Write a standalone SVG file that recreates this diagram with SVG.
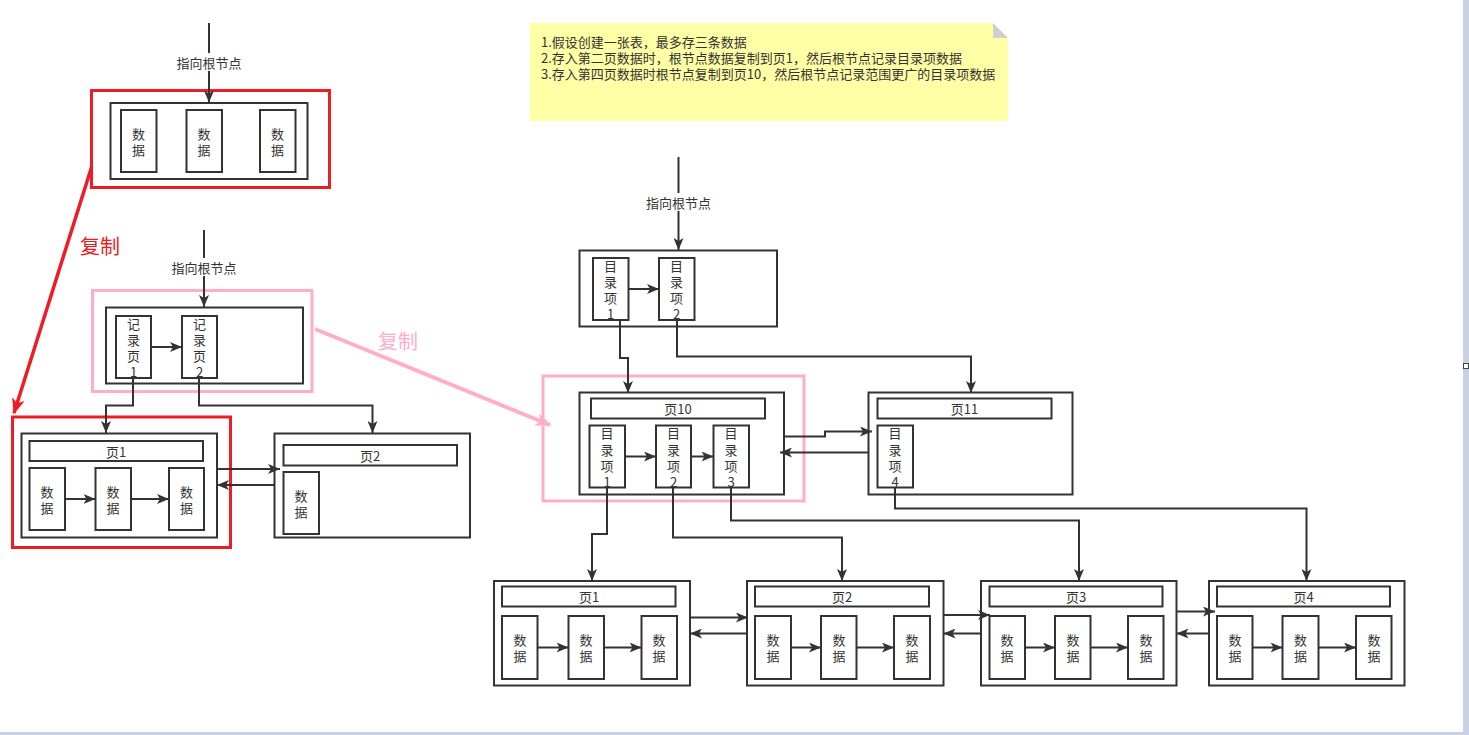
<svg xmlns="http://www.w3.org/2000/svg" width="1469" height="735" viewBox="0 0 1469 735">
<style>
.box{fill:#fff;stroke:#333;stroke-width:2}
.cell{fill:#fff;stroke:#333;stroke-width:2}
.ln{fill:none;stroke:#333;stroke-width:2}
.t{font-family:"Noto Sans CJK SC","Microsoft YaHei",sans-serif;font-size:13px;fill:#333;text-anchor:middle;dominant-baseline:central}
.nt{font-family:"Noto Sans CJK SC",sans-serif;font-size:13px;fill:#333;dominant-baseline:central}
.lbl{fill:#fff}
.big{font-family:"Noto Sans CJK SC",sans-serif;font-size:20px;text-anchor:middle;dominant-baseline:central}
</style>
<defs>
<marker id="ah" viewBox="0 0 12 10" refX="12" refY="5" markerWidth="12" markerHeight="10" markerUnits="userSpaceOnUse" orient="auto">
<path d="M0,0 L12,5 L0,10 L3,5 Z" fill="#333"/>
</marker>
<marker id="ahr" viewBox="0 0 10 8" refX="9" refY="4" markerWidth="16" markerHeight="13" markerUnits="userSpaceOnUse" orient="auto">
<path d="M0,0 L10,4 L0,8 L2.5,4 Z" fill="#ee1c25"/>
</marker>
<marker id="ahp" viewBox="0 0 10 8" refX="9" refY="4" markerWidth="16" markerHeight="13" markerUnits="userSpaceOnUse" orient="auto">
<path d="M0,0 L10,4 L0,8 L2.5,4 Z" fill="#ffadc9"/>
</marker>
</defs>
<rect width="1469" height="735" fill="#fff"/>
<rect x="1463" y="0" width="6" height="735" fill="#c8d1e2"/>
<rect x="0" y="732" width="1469" height="3" fill="#c8d1e2"/>
<rect x="1463.5" y="363.5" width="5" height="5" fill="#fff" stroke="#444" stroke-width="1"/>

<g id="note">
<polygon points="530,23 993,23 1008,38 1008,121 530,121" fill="#ffffa6"/>
<polygon points="993,23 1008,38 993,38" fill="#d0d0d0"/>
<text class="nt" x="541" y="41.5">1.假设创建一张表，最多存三条数据</text>
<text class="nt" x="541" y="57.5">2.存入第二页数据时，根节点数据复制到页1，然后根节点记录目录项数据</text>
<text class="nt" x="541" y="73.5">3.存入第四页数据时根节点复制到页10，然后根节点记录范围更广的目录项数据</text>
</g>

<g id="root1">
<rect class="box" x="110.5" y="103" width="197" height="76"/>
<rect class="cell" x="121" y="110" width="35.5" height="62"/>
<text class="t" x="138.5" y="133">数<tspan x="138.5" dy="16">据</tspan></text>
<rect class="cell" x="186.5" y="110" width="35.5" height="62"/>
<text class="t" x="204" y="133">数<tspan x="204" dy="16">据</tspan></text>
<rect class="cell" x="260" y="110" width="35.5" height="62"/>
<text class="t" x="277.5" y="133">数<tspan x="277.5" dy="16">据</tspan></text>
</g>
<rect id="hl-red1" x="91.5" y="90.5" width="238" height="97" fill="none" stroke="#ee1c25" stroke-width="3"/>

<g id="root2">
<rect class="box" x="106" y="307.5" width="197" height="76"/>
<rect class="cell" x="116" y="316" width="35" height="62"/>
<text class="t" x="133.5" y="323">记<tspan x="133.5" dy="16">录</tspan><tspan x="133.5" dy="16">页</tspan><tspan x="133.5" dy="16">1</tspan></text>
<rect class="cell" x="182" y="316" width="35" height="62"/>
<text class="t" x="199.5" y="323">记<tspan x="199.5" dy="16">录</tspan><tspan x="199.5" dy="16">页</tspan><tspan x="199.5" dy="16">2</tspan></text>
</g>
<rect id="hl-pink1" x="92.5" y="290.5" width="219.5" height="101" fill="none" stroke="#ffadc9" stroke-width="3"/>

<g id="lpage1">
<rect class="box" x="21.5" y="433.5" width="195.5" height="104"/>
<rect class="cell" x="29.5" y="441" width="173.5" height="20"/>
<text class="t" x="116" y="451">页1</text>
<rect class="cell" x="29.5" y="468" width="35.5" height="62"/>
<text class="t" x="47" y="491.5">数<tspan x="47" dy="15.5">据</tspan></text>
<rect class="cell" x="95.5" y="468" width="35.5" height="62"/>
<text class="t" x="113" y="491.5">数<tspan x="113" dy="15.5">据</tspan></text>
<rect class="cell" x="169" y="468" width="35" height="62"/>
<text class="t" x="186.5" y="491.5">数<tspan x="186.5" dy="15.5">据</tspan></text>
</g>
<rect id="hl-red2" x="12.5" y="417" width="218" height="130.5" fill="none" stroke="#ee1c25" stroke-width="3"/>

<g id="lpage2">
<rect class="box" x="274.5" y="433.5" width="195.5" height="104"/>
<rect class="cell" x="283.5" y="445" width="173.5" height="20.5"/>
<text class="t" x="370" y="455">页2</text>
<rect class="cell" x="283.5" y="472" width="35.5" height="62"/>
<text class="t" x="301" y="495.5">数<tspan x="301" dy="15.5">据</tspan></text>
</g>

<g id="root3">
<rect class="box" x="579.5" y="250.5" width="197.5" height="76"/>
<rect class="cell" x="593" y="258" width="35.5" height="62"/>
<text class="t" x="610.5" y="265">目<tspan x="610.5" dy="16">录</tspan><tspan x="610.5" dy="16">项</tspan><tspan x="610.5" dy="16">1</tspan></text>
<rect class="cell" x="659" y="258" width="35.5" height="62"/>
<text class="t" x="676.5" y="265">目<tspan x="676.5" dy="16">录</tspan><tspan x="676.5" dy="16">项</tspan><tspan x="676.5" dy="16">2</tspan></text>
</g>

<g id="page10">
<rect class="box" x="579.5" y="392.5" width="204.5" height="102"/>
<rect class="cell" x="591" y="398.5" width="174" height="20"/>
<text class="t" x="678" y="408.5">页10</text>
<rect class="cell" x="589.5" y="425.5" width="35.5" height="62"/>
<text class="t" x="607" y="432.5">目<tspan x="607" dy="16">录</tspan><tspan x="607" dy="16">项</tspan><tspan x="607" dy="16">1</tspan></text>
<rect class="cell" x="656" y="425.5" width="35" height="62"/>
<text class="t" x="673.5" y="432.5">目<tspan x="673.5" dy="16">录</tspan><tspan x="673.5" dy="16">项</tspan><tspan x="673.5" dy="16">2</tspan></text>
<rect class="cell" x="713.5" y="425.5" width="35.5" height="62"/>
<text class="t" x="731" y="432.5">目<tspan x="731" dy="16">录</tspan><tspan x="731" dy="16">项</tspan><tspan x="731" dy="16">3</tspan></text>
</g>
<rect id="hl-pink2" x="543" y="376" width="261" height="125" fill="none" stroke="#ffadc9" stroke-width="3"/>

<g id="page11">
<rect class="box" x="868.5" y="392.5" width="204" height="102"/>
<rect class="cell" x="877.5" y="398.5" width="174" height="20"/>
<text class="t" x="964.5" y="408.5">页11</text>
<rect class="cell" x="877.5" y="425.5" width="35.5" height="62"/>
<text class="t" x="895" y="432.5">目<tspan x="895" dy="16">录</tspan><tspan x="895" dy="16">项</tspan><tspan x="895" dy="16">4</tspan></text>
</g>

<g id="bpage1">
<rect class="box" x="494" y="581" width="196" height="104.5"/>
<rect class="cell" x="502" y="586.5" width="173.5" height="20"/>
<text class="t" x="589" y="596.5">页1</text>
<rect class="cell" x="502" y="616" width="35.5" height="63"/>
<text class="t" x="520" y="639">数<tspan x="520" dy="16">据</tspan></text>
<rect class="cell" x="568.5" y="616" width="35.5" height="63"/>
<text class="t" x="586" y="639">数<tspan x="586" dy="16">据</tspan></text>
<rect class="cell" x="641.5" y="616" width="35.5" height="63"/>
<text class="t" x="659" y="639">数<tspan x="659" dy="16">据</tspan></text>
</g>
<g id="bpage2">
<rect class="box" x="747" y="581" width="196.5" height="104.5"/>
<rect class="cell" x="755" y="586.5" width="174" height="20"/>
<text class="t" x="842" y="596.5">页2</text>
<rect class="cell" x="755" y="616" width="36" height="63"/>
<text class="t" x="773" y="639">数<tspan x="773" dy="16">据</tspan></text>
<rect class="cell" x="821" y="616" width="35.5" height="63"/>
<text class="t" x="839" y="639">数<tspan x="839" dy="16">据</tspan></text>
<rect class="cell" x="894" y="616" width="36" height="63"/>
<text class="t" x="912" y="639">数<tspan x="912" dy="16">据</tspan></text>
</g>
<g id="bpage3">
<rect class="box" x="981" y="581" width="195.5" height="104.5"/>
<rect class="cell" x="989.5" y="586.5" width="173" height="20"/>
<text class="t" x="1076" y="596.5">页3</text>
<rect class="cell" x="989.5" y="616" width="35.5" height="63"/>
<text class="t" x="1007" y="639">数<tspan x="1007" dy="16">据</tspan></text>
<rect class="cell" x="1055" y="616" width="35.5" height="63"/>
<text class="t" x="1073" y="639">数<tspan x="1073" dy="16">据</tspan></text>
<rect class="cell" x="1128" y="616" width="35.5" height="63"/>
<text class="t" x="1146" y="639">数<tspan x="1146" dy="16">据</tspan></text>
</g>
<g id="bpage4">
<rect class="box" x="1209" y="581" width="195.5" height="104.5"/>
<rect class="cell" x="1217" y="586.5" width="173" height="20"/>
<text class="t" x="1303.5" y="596.5">页4</text>
<rect class="cell" x="1217" y="616" width="35.5" height="63"/>
<text class="t" x="1235" y="639">数<tspan x="1235" dy="16">据</tspan></text>
<rect class="cell" x="1282.5" y="616" width="36" height="63"/>
<text class="t" x="1300.5" y="639">数<tspan x="1300.5" dy="16">据</tspan></text>
<rect class="cell" x="1356" y="616" width="35.5" height="63"/>
<text class="t" x="1374" y="639">数<tspan x="1374" dy="16">据</tspan></text>
</g>

<g id="connectors">
<line class="ln" x1="209" y1="23" x2="209" y2="102.5" marker-end="url(#ah)"/>
<rect class="lbl" x="176" y="53" width="66" height="18"/>
<text class="t" x="209" y="62">指向根节点</text>
<line class="ln" x1="204" y1="230" x2="204" y2="307" marker-end="url(#ah)"/>
<rect class="lbl" x="171" y="258" width="66" height="18"/>
<text class="t" x="204" y="267">指向根节点</text>
<line class="ln" x1="678.5" y1="157" x2="678.5" y2="250" marker-end="url(#ah)"/>
<rect class="lbl" x="645" y="193" width="67" height="18"/>
<text class="t" x="678.5" y="202">指向根节点</text>

<line x1="91.7" y1="166.7" x2="14" y2="413" stroke="#ee1c25" stroke-width="3.5" marker-end="url(#ahr)"/>
<text class="big" x="100" y="245" fill="#ee1c25">复制</text>
<line x1="315" y1="329" x2="550" y2="425" stroke="#ffadc9" stroke-width="4" marker-end="url(#ahp)"/>
<text class="big" x="398" y="340" fill="#ffadc9">复制</text>

<line class="ln" x1="151" y1="347" x2="182" y2="347" marker-end="url(#ah)"/>
<polyline class="ln" points="133,378 133,405.5 106,405.5 106,433" marker-end="url(#ah)"/>
<polyline class="ln" points="199,378 199,405.5 372.5,405.5 372.5,433" marker-end="url(#ah)"/>
<line class="ln" x1="65" y1="499" x2="95.5" y2="499" marker-end="url(#ah)"/>
<line class="ln" x1="131" y1="499" x2="169" y2="499" marker-end="url(#ah)"/>
<line class="ln" x1="217" y1="469" x2="280" y2="469" marker-end="url(#ah)"/>
<line class="ln" x1="274.5" y1="485" x2="217" y2="485" marker-end="url(#ah)"/>

<line class="ln" x1="628.5" y1="289" x2="659" y2="289" marker-end="url(#ah)"/>
<polyline class="ln" points="620,320 620,358 628,358 628,393" marker-end="url(#ah)"/>
<polyline class="ln" points="677,320 677,356.5 971,356.5 971,393" marker-end="url(#ah)"/>
<line class="ln" x1="625" y1="456.5" x2="656" y2="456.5" marker-end="url(#ah)"/>
<line class="ln" x1="691" y1="456.5" x2="713.5" y2="456.5" marker-end="url(#ah)"/>
<polyline class="ln" points="784,436.5 825,436.5 825,431.5 872,431.5" marker-end="url(#ah)"/>
<line class="ln" x1="868.5" y1="452.5" x2="780" y2="452.5" marker-end="url(#ah)"/>
<polyline class="ln" points="607,487.5 607,534 592,534 592,581" marker-end="url(#ah)"/>
<polyline class="ln" points="673,487.5 673,537.5 842,537.5 842,581" marker-end="url(#ah)"/>
<polyline class="ln" points="731,487.5 731,520.5 1079,520.5 1079,581" marker-end="url(#ah)"/>
<polyline class="ln" points="895,487.5 895,508.5 1306.5,508.5 1306.5,581" marker-end="url(#ah)"/>

<line class="ln" x1="537.5" y1="647.5" x2="568.5" y2="647.5" marker-end="url(#ah)"/>
<line class="ln" x1="604" y1="647.5" x2="641.5" y2="647.5" marker-end="url(#ah)"/>
<line class="ln" x1="791" y1="647.5" x2="821" y2="647.5" marker-end="url(#ah)"/>
<line class="ln" x1="856.5" y1="647.5" x2="894" y2="647.5" marker-end="url(#ah)"/>
<line class="ln" x1="1025" y1="647.5" x2="1055" y2="647.5" marker-end="url(#ah)"/>
<line class="ln" x1="1090.5" y1="647.5" x2="1128" y2="647.5" marker-end="url(#ah)"/>
<line class="ln" x1="1252.5" y1="647.5" x2="1282.5" y2="647.5" marker-end="url(#ah)"/>
<line class="ln" x1="1318.5" y1="647.5" x2="1356" y2="647.5" marker-end="url(#ah)"/>

<line class="ln" x1="690" y1="617.5" x2="748" y2="617.5" marker-end="url(#ah)"/>
<line class="ln" x1="747" y1="633.5" x2="690" y2="633.5" marker-end="url(#ah)"/>
<line class="ln" x1="943.5" y1="615" x2="990" y2="615" marker-end="url(#ah)"/>
<line class="ln" x1="981" y1="633.5" x2="943.5" y2="633.5" marker-end="url(#ah)"/>
<line class="ln" x1="1176.5" y1="611.5" x2="1215" y2="611.5" marker-end="url(#ah)"/>
<line class="ln" x1="1209" y1="633.5" x2="1176.5" y2="633.5" marker-end="url(#ah)"/>
</g>
</svg>
